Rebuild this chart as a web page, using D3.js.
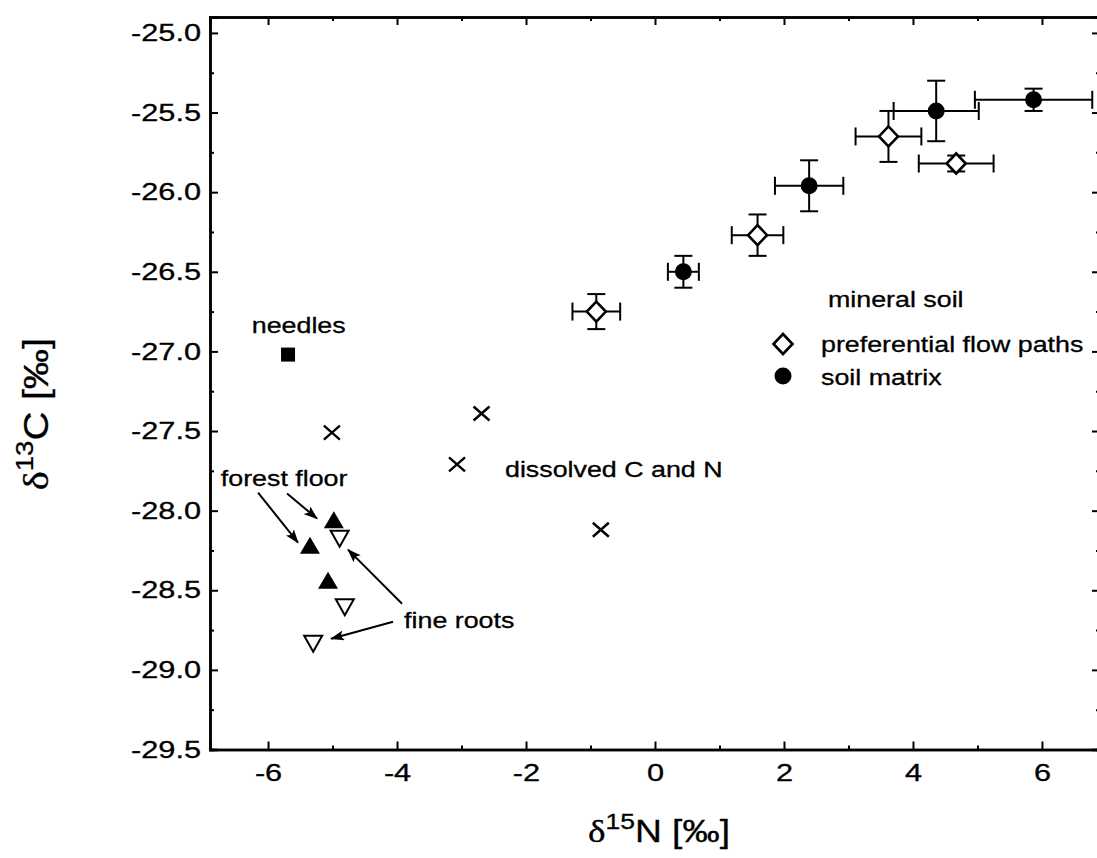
<!DOCTYPE html>
<html><head><meta charset="utf-8">
<script src="https://cdn.jsdelivr.net/npm/d3@7"></script>
<style>
html,body{margin:0;padding:0;background:#fff;}
svg{display:block;font-family:"Liberation Sans",Arial,sans-serif;}
</style></head>
<body>
<svg id="chart" width="1097" height="858"></svg>
<script>
// ---- data (δ15N, δ13C in ‰) ----
const needlesN = [-5.69];
const needlesC = [-27.02];
const dissolvedN = [-5.01, -2.69, -3.07, -0.84];
const dissolvedC = [-27.51, -27.39, -27.71, -28.12];
const forestFloorN = [-4.98, -5.35, -5.07];
const forestFloorC = [-28.06, -28.22, -28.44];
const fineRootsN = [-4.89, -4.81, -5.30];
const fineRootsC = [-28.17, -28.60, -28.83];
const flowPathN = [-0.91, 1.59, 3.62, 4.67];
const flowPathC = [-26.75, -26.27, -25.65, -25.82];
const flowPathNErr = [0.37, 0.40, 0.51, 0.58];
const flowPathCErr = [0.11, 0.13, 0.16, 0.05];
const matrixN = [0.44, 2.39, 4.36, 5.87];
const matrixC = [-26.50, -25.96, -25.49, -25.42];
const matrixNErr = [0.24, 0.53, 0.66, 0.91];
const matrixCErr = [0.10, 0.16, 0.19, 0.07];
const xTicks = [-6, -4, -2, 0, 2, 4, 6];
const xMinorTicks = [-5, -3, -1, 1, 3, 5];
const yTicks = [-25.0, -25.5, -26.0, -26.5, -27.0, -27.5, -28.0, -28.5, -29.0, -29.5];
const yMinorTicks = [-25.25, -25.75, -26.25, -26.75, -27.25, -27.75, -28.25, -28.75, -29.25];
// annotation texts and arrows (data units)
const labelTexts = ["needles", "dissolved C and N", "forest floor", "fine roots", "mineral soil"];
const labelN = [-6.253, -2.326, -6.733, -3.891, 2.682];
const labelC = [-26.887, -27.786, -27.847, -28.736, -26.723];
const arrowFromN = [-6.155, -5.705, -3.922, -4.062];
const arrowFromC = [-27.887, -27.893, -28.585, -28.698];
const arrowToN = [-5.535, -5.240, -4.760, -5.023];
const arrowToC = [-28.201, -28.050, -28.245, -28.805];
const legendNames = ["preferential flow paths", "soil matrix"];

// ---- layout ----
const svg = d3.select("#chart");
const x = d3.scaleLinear().domain([-6.9, 6.9]).range([210, 1100]);
const y = d3.scaleLinear().domain([-29.5, -24.9]).range([749.5, 17]);
const L = 210, R = 1100, T = 17, B = 749.5;
const ink = "#000";
const textStroke = 0.3;

function stretchText(sel, sx) {
  sel.each(function() {
    const t = d3.select(this);
    const tx = +t.attr("x") || 0;
    t.attr("x", 0).attr("transform", `translate(${tx},0) scale(${sx},1)`);
  });
}

// axes
const gx = svg.append("g").attr("transform", `translate(0,${B})`)
  .call(d3.axisBottom(x).tickValues(xTicks).tickSize(-8).tickPadding(14).tickFormat(d3.format("d")));
const gxm = svg.append("g").attr("transform", `translate(0,${B})`)
  .call(d3.axisBottom(x).tickValues(xMinorTicks).tickSize(-4).tickFormat(""));
const gt = svg.append("g").attr("transform", `translate(0,${T})`)
  .call(d3.axisTop(x).tickValues(xTicks).tickSize(-8).tickFormat(""));
const gtm = svg.append("g").attr("transform", `translate(0,${T})`)
  .call(d3.axisTop(x).tickValues(xMinorTicks).tickSize(-4).tickFormat(""));
const gy = svg.append("g").attr("transform", `translate(${L},0)`)
  .call(d3.axisLeft(y).tickValues(yTicks).tickSize(-8).tickPadding(9).tickFormat(d3.format(".1f")));
const gym = svg.append("g").attr("transform", `translate(${L},0)`)
  .call(d3.axisLeft(y).tickValues(yMinorTicks).tickSize(-4).tickFormat(""));
const gr = svg.append("g").attr("transform", `translate(${R},0)`)
  .call(d3.axisRight(y).tickValues(yTicks).tickSize(-8).tickFormat(""));
const grm = svg.append("g").attr("transform", `translate(${R},0)`)
  .call(d3.axisRight(y).tickValues(yMinorTicks).tickSize(-4).tickFormat(""));

[gx, gxm, gt, gtm, gy, gym, gr, grm].forEach(g => {
  g.selectAll("path.domain").attr("stroke", ink).attr("stroke-width", 2.5);
  g.selectAll(".tick line").attr("stroke", ink).attr("stroke-width", 2);
});
[gx, gy].forEach(g => g.selectAll("text")
  .attr("font-family", '"Liberation Sans",Arial,sans-serif')
  .attr("font-size", 24).attr("fill", ink).attr("stroke", ink).attr("stroke-width", textStroke));
gx.selectAll("text").attr("dy", "0.71em").each(function(){
  const t = d3.select(this);
  t.text(t.text().replace("−", "-"));
});
gy.selectAll("text").each(function(){
  const t = d3.select(this);
  t.text(t.text().replace("−", "-"));
});
stretchText(gx.selectAll("text"), 1.28);
stretchText(gy.selectAll("text"), 1.28);

// axis titles
const xt = svg.append("text").attr("transform", "translate(659,842) scale(1.2,1)")
  .attr("text-anchor", "middle").attr("font-size", 31).attr("fill", ink)
  .attr("stroke", ink).attr("stroke-width", textStroke);
xt.append("tspan").attr("font-family", '"Liberation Serif",serif').text("δ");
xt.append("tspan").attr("font-size", 22).attr("dy", -13).text("15");
xt.append("tspan").attr("dy", 13).text("N [‰]");

const yt = svg.append("text").attr("transform", "translate(48,414) rotate(-90) scale(1.15,1)")
  .attr("text-anchor", "middle").attr("font-size", 35).attr("fill", ink)
  .attr("stroke", ink).attr("stroke-width", textStroke);
yt.append("tspan").attr("font-family", '"Liberation Serif",serif').text("δ");
yt.append("tspan").attr("font-size", 24).attr("dy", -15).text("13");
yt.append("tspan").attr("dy", 15).text("C [‰]");

// error bars
function errorBars(N, C, NE, CE) {
  const g = svg.append("g").attr("stroke", ink).attr("stroke-width", 2).attr("fill", "none");
  N.forEach((n, i) => {
    const cx = x(n), cy = y(C[i]);
    const x0 = x(n - NE[i]), x1 = x(n + NE[i]);
    const y0 = y(C[i] - CE[i]), y1 = y(C[i] + CE[i]);
    g.append("line").attr("x1", x0).attr("x2", x1).attr("y1", cy).attr("y2", cy);
    g.append("line").attr("x1", x0).attr("x2", x0).attr("y1", cy - 9).attr("y2", cy + 9);
    g.append("line").attr("x1", x1).attr("x2", x1).attr("y1", cy - 9).attr("y2", cy + 9);
    g.append("line").attr("x1", cx).attr("x2", cx).attr("y1", y0).attr("y2", y1);
    g.append("line").attr("x1", cx - 9).attr("x2", cx + 9).attr("y1", y0).attr("y2", y0);
    g.append("line").attr("x1", cx - 9).attr("x2", cx + 9).attr("y1", y1).attr("y2", y1);
  });
}
errorBars(flowPathN, flowPathC, flowPathNErr, flowPathCErr);
errorBars(matrixN, matrixC, matrixNErr, matrixCErr);

// marker shapes
const shapes = {
  diamond: "M0,-10L9.5,0L0,10L-9.5,0Z",
  triUp: "M0,-9L10,8L-10,8Z",
  triDown: "M-9,-7L9,-7L0,9Z",
  square: "M-7,-7L7,-7L7,7L-7,7Z",
  cross: "M-8,-7L8,7M-8,7L8,-7"
};
function points(N, C, shape, fill, sw) {
  svg.append("g").selectAll("path").data(N).join("path")
    .attr("transform", (d, i) => `translate(${x(d)},${y(C[i])})`)
    .attr("d", shapes[shape])
    .attr("fill", fill).attr("stroke", ink).attr("stroke-width", sw);
}
points(flowPathN, flowPathC, "diamond", "#fff", 2.6);
svg.append("g").selectAll("circle").data(matrixN).join("circle")
  .attr("cx", d => x(d)).attr("cy", (d, i) => y(matrixC[i])).attr("r", 8.5).attr("fill", ink);
points(needlesN, needlesC, "square", ink, 0);
points(dissolvedN, dissolvedC, "cross", "none", 2.4);
points(forestFloorN, forestFloorC, "triUp", ink, 0);
points(fineRootsN, fineRootsC, "triDown", "#fff", 2);

// arrows
svg.append("defs").append("marker").attr("id", "ah")
  .attr("markerUnits", "userSpaceOnUse").attr("viewBox", "0 0 14 10")
  .attr("refX", 13).attr("refY", 5).attr("markerWidth", 14).attr("markerHeight", 10)
  .attr("orient", "auto")
  .append("path").attr("d", "M0,0L14,5L0,10L3,5Z").attr("fill", ink);
svg.append("g").selectAll("line").data(arrowFromN).join("line")
  .attr("x1", d => x(d)).attr("y1", (d, i) => y(arrowFromC[i]))
  .attr("x2", (d, i) => x(arrowToN[i])).attr("y2", (d, i) => y(arrowToC[i]))
  .attr("stroke", ink).attr("stroke-width", 2).attr("marker-end", "url(#ah)");

// labels
const lg = svg.append("g").attr("font-size", 22).attr("fill", ink)
  .attr("stroke", ink).attr("stroke-width", textStroke);
labelTexts.forEach((t, i) => {
  lg.append("text").attr("transform", `translate(${x(labelN[i])},${y(labelC[i])}) scale(1.22,1)`).text(t);
});

// legend
const legRowY = [352, 385];
const legText = svg.append("g").attr("font-size", 22).attr("fill", ink)
  .attr("stroke", ink).attr("stroke-width", textStroke);
legendNames.forEach((t, i) => {
  legText.append("text").attr("transform", `translate(821,${legRowY[i]}) scale(1.22,1)`).text(t);
});
svg.append("path").attr("transform", `translate(783,${legRowY[0] - 8})`).attr("d", shapes.diamond)
  .attr("fill", "#fff").attr("stroke", ink).attr("stroke-width", 2.6);
svg.append("circle").attr("cx", 783).attr("cy", legRowY[1] - 9).attr("r", 8.5).attr("fill", ink);
</script>
</body></html>
